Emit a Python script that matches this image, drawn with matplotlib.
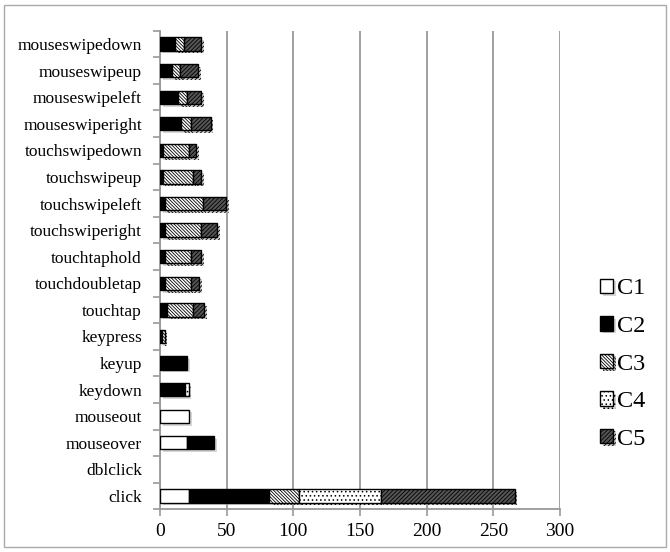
import numpy as np
import matplotlib
matplotlib.use("Agg")
import matplotlib.pyplot as plt
import matplotlib.patheffects as pe
from matplotlib.patches import Rectangle

# categories bottom to top
events = ["click", "dblclick", "mouseover", "mouseout", "keydown", "keyup",
          "keypress", "touchtap", "touchdoubletap", "touchtaphold",
          "touchswiperight", "touchswipeleft", "touchswipeup", "touchswipedown",
          "mouseswiperight", "mouseswipeleft", "mouseswipeup", "mouseswipedown"]

C1 = [21.5, 0, 20, 22, 0, 0, 0, 0, 0, 0, 0, 0, 0, 0, 0, 0, 0, 0]
C2 = [60.5, 0, 20.5, 0, 18.5, 20.5, 1.5, 5, 3.5, 3.5, 3.5, 3.5, 2, 2, 15.7, 13.7, 9, 11]
C3 = [22, 0, 0, 0, 0, 0, 2, 20, 19.5, 19.5, 27, 29, 23, 20, 7.8, 6.3, 6, 7]
C4 = [61.5, 0, 0, 0, 3, 0, 0, 0, 0, 0, 0, 0, 0, 0, 0, 0, 0, 0]
C5 = [100.5, 0, 0, 0, 0, 0, 0, 8, 6.5, 8, 12.5, 17, 6, 5, 14.5, 11, 13.7, 13]
series = ["C1", "C2", "C3", "C4", "C5"]

plt.rcParams['font.family'] = ['Liberation Serif', 'DejaVu Serif']
plt.rcParams['hatch.linewidth'] = 0.6

fig = plt.figure(figsize=(6.7, 5.52), dpi=100)
ax = fig.add_axes([160 / 670, 1 - 509.3 / 552, 400 / 670, (509.3 - 30.7) / 552])

styles = [
    dict(color="white", hatch=None),
    dict(color="black", hatch=None),
    dict(color="white", hatch="\\\\\\\\\\\\\\\\\\\\"),
    dict(color="white", hatch="...."),
    dict(color="#555555", hatch="////////"),
]

y = np.arange(len(events))
left = np.zeros(len(events))
shadow = [pe.SimplePatchShadow(offset=(2, -2), shadow_rgbFace="#bbbbbb", alpha=0.6), pe.Normal()]
handles = []
for name, vals, st in zip(series, [C1, C2, C3, C4, C5], styles):
    vals = np.array(vals)
    bars = ax.barh(y, vals, left=left, height=0.5, color=st["color"], hatch=st["hatch"],
                   edgecolor="black", linewidth=1.0, label=name, zorder=3)
    for b, v in zip(bars, vals):
        if v == 0:
            b.set_visible(False)
        else:
            b.set_path_effects(shadow)
    handles.append(bars)
    left += vals

ax.set_xlim(0, 300)
ax.set_ylim(-0.5, len(events) - 0.5)
ax.set_xticks(np.arange(0, 301, 50))
ax.set_yticks(y)
ax.set_yticklabels(events, fontsize=12.5)
ax.set_yticks(np.arange(-0.5, len(events), 1), minor=True)
ax.tick_params(axis="y", which="major", length=0, pad=13)
ax.tick_params(axis="y", which="minor", length=5, color="#999999", width=1.2)
ax.tick_params(axis="x", length=5, color="#999999", width=1.2, labelsize=14, pad=5)
ax.grid(axis="x", color="#999999", linewidth=1.3, zorder=0)
for s in ["top", "right"]:
    ax.spines[s].set_visible(False)
for s in ["left", "bottom"]:
    ax.spines[s].set_color("#999999")
    ax.spines[s].set_linewidth(1.3)

leg = fig.legend(handles=handles, labels=series, loc="center left",
                 bbox_to_anchor=(578 / 670, 1 - 364 / 552), frameon=False,
                 fontsize=17.5, labelspacing=0.68, handlelength=0.55, handleheight=0.55,
                 handletextpad=0.15)

fig.patches.append(Rectangle((4 / 670, 5 / 552), 662 / 670, 542 / 552, transform=fig.transFigure,
                             fill=False, edgecolor="#aaaaaa", linewidth=1.0))

fig.savefig("out.png", dpi=100)
